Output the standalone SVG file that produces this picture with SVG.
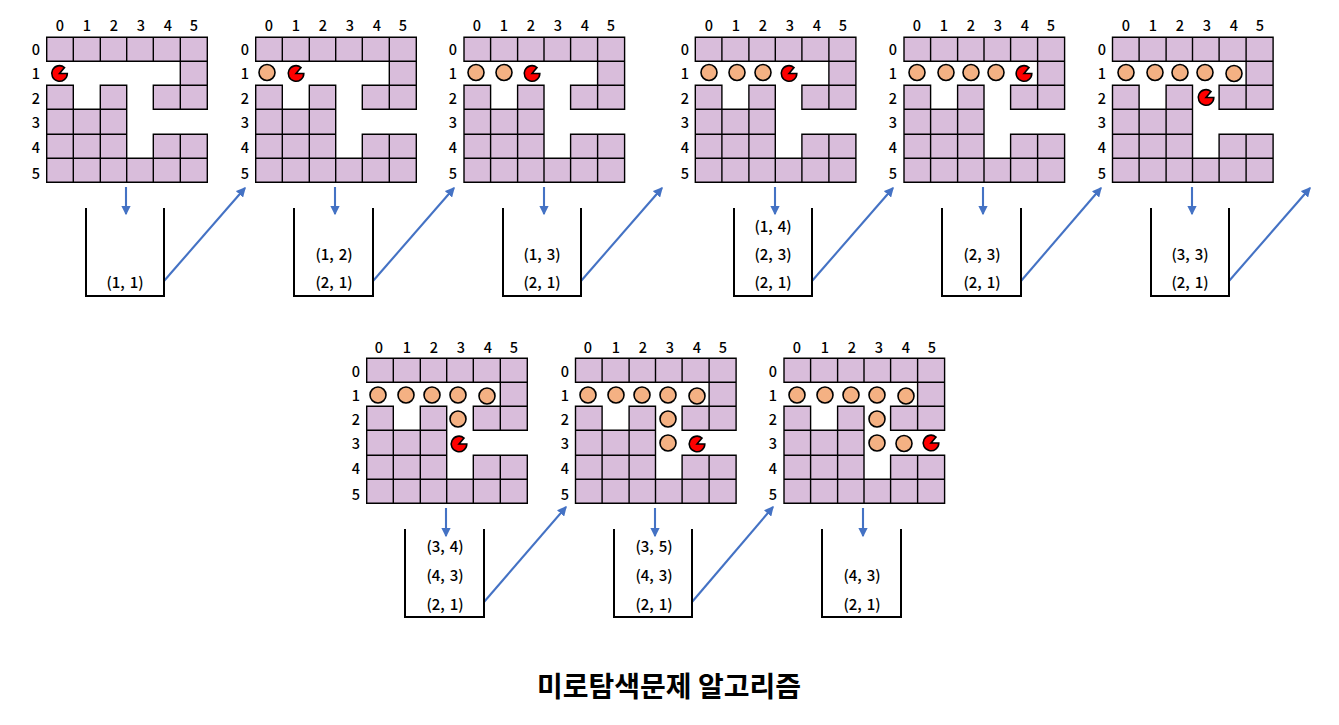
<svg xmlns="http://www.w3.org/2000/svg" width="1339" height="725" viewBox="0 0 1339 725">
<style>
text{font-family:"Noto Sans CJK KR","Noto Sans",sans-serif;fill:#000;text-anchor:middle;font-weight:500}
.l{font-size:14.5px}
.s{font-size:15px;word-spacing:1.5px}
.t{font-size:28px;font-weight:700}
.w{fill:#D9BDDB;stroke:#000;stroke-width:1.4}
.c{fill:#F4B183;stroke:#000;stroke-width:1.6}
.p{fill:#FF0000;stroke:#000;stroke-width:1.6}
.u{fill:none;stroke:#000;stroke-width:2}
.a{fill:none;stroke:#4472C4;stroke-width:2.1;marker-end:url(#h)}
</style>
<defs>
<marker id="h" markerWidth="4.6" markerHeight="4.6" refX="4" refY="2.3" orient="auto" markerUnits="strokeWidth"><path d="M0 0L4.6 2.3L0 4.6Z" fill="#4472C4"/></marker>
<path id="g1" class="w" d="M0 0H26.6V24H0ZM26.6 0H53.6V24H26.6ZM53.6 0H80V24H53.6ZM80 0H106.6V24H80ZM106.6 0H133.6V24H106.6ZM133.6 0H160.6V24H133.6ZM133.6 24H160.6V48H133.6ZM0 48H26.6V72H0ZM53.6 48H80V72H53.6ZM106.6 48H133.6V72H106.6ZM133.6 48H160.6V72H133.6ZM0 72H26.6V97H0ZM26.6 72H53.6V97H26.6ZM53.6 72H80V97H53.6ZM0 97H26.6V121H0ZM26.6 97H53.6V121H26.6ZM53.6 97H80V121H53.6ZM106.6 97H133.6V121H106.6ZM133.6 97H160.6V121H133.6ZM0 121H26.6V145H0ZM26.6 121H53.6V145H26.6ZM53.6 121H80V145H53.6ZM80 121H106.6V145H80ZM106.6 121H133.6V145H106.6ZM133.6 121H160.6V145H133.6Z"/>
<path id="pac" class="p" d="M0 0L5 -6A7.8 7.8 0 1 0 7.8 0Z"/>
</defs>
<g id="connectors">
<path class="a" d="M126 187V214"/><path class="a" d="M335 187V214"/><path class="a" d="M544 187V214"/><path class="a" d="M775 187V214"/><path class="a" d="M983 187V214"/><path class="a" d="M1192 187V214"/>
<path class="a" d="M164 281L245 188"/><path class="a" d="M373 281L454 188"/><path class="a" d="M581 281L662 188"/><path class="a" d="M812 281L893 188"/><path class="a" d="M1021 281L1101 188"/><path class="a" d="M1229 281L1310 188"/>
<path class="a" d="M446 508V536"/><path class="a" d="M655 508V536"/><path class="a" d="M863 508V536"/>
<path class="a" d="M484 602L566 507"/><path class="a" d="M692 602L773 507"/>
</g>
<g id="panel1"><use href="#g1" x="46.7" y="37.3"/>
<text class="l" x="60" y="30.500">0</text><text class="l" x="87" y="30.500">1</text><text class="l" x="114" y="30.500">2</text><text class="l" x="141" y="30.500">3</text><text class="l" x="168" y="30.500">4</text><text class="l" x="194" y="30.500">5</text>
<text class="l" x="36" y="55">0</text><text class="l" x="36" y="79">1</text><text class="l" x="36" y="103.500">2</text><text class="l" x="36" y="127.500">3</text><text class="l" x="36" y="152.500">4</text><text class="l" x="36" y="178.500">5</text>
<use href="#pac" x="59.5" y="73.5"/>
<path class="u" d="M86 208V296M164 208V296M85 296H165"/>
<text class="s" x="125" y="287.500">(1, 1)</text></g>
<g id="panel2"><use href="#g1" x="255.7" y="37.3"/>
<text class="l" x="269" y="30.500">0</text><text class="l" x="296" y="30.500">1</text><text class="l" x="323" y="30.500">2</text><text class="l" x="350" y="30.500">3</text><text class="l" x="377" y="30.500">4</text><text class="l" x="403" y="30.500">5</text>
<text class="l" x="245" y="55">0</text><text class="l" x="245" y="79">1</text><text class="l" x="245" y="103.500">2</text><text class="l" x="245" y="127.500">3</text><text class="l" x="245" y="152.500">4</text><text class="l" x="245" y="178.500">5</text>
<circle class="c" cx="267" cy="72.5" r="8"/><use href="#pac" x="296" y="73.5"/>
<path class="u" d="M294 208V296M373 208V296M293 296H374"/>
<text class="s" x="334" y="259.500">(1, 2)</text><text class="s" x="334" y="287.500">(2, 1)</text></g>
<g id="panel3"><use href="#g1" x="464" y="37.3"/>
<text class="l" x="477" y="30.500">0</text><text class="l" x="504" y="30.500">1</text><text class="l" x="531" y="30.500">2</text><text class="l" x="558" y="30.500">3</text><text class="l" x="585" y="30.500">4</text><text class="l" x="611" y="30.500">5</text>
<text class="l" x="453" y="55">0</text><text class="l" x="453" y="79">1</text><text class="l" x="453" y="103.500">2</text><text class="l" x="453" y="127.500">3</text><text class="l" x="453" y="152.500">4</text><text class="l" x="453" y="178.500">5</text>
<circle class="c" cx="476" cy="72.5" r="8"/><circle class="c" cx="504" cy="72.5" r="8"/><use href="#pac" x="532" y="73.5"/>
<path class="u" d="M503 208V296M581 208V296M502 296H582"/>
<text class="s" x="542" y="259.500">(1, 3)</text><text class="s" x="542" y="287.500">(2, 1)</text></g>
<g id="panel4"><use href="#g1" x="695.3" y="37.3"/>
<text class="l" x="709" y="30.500">0</text><text class="l" x="736" y="30.500">1</text><text class="l" x="763" y="30.500">2</text><text class="l" x="790" y="30.500">3</text><text class="l" x="817" y="30.500">4</text><text class="l" x="843" y="30.500">5</text>
<text class="l" x="685" y="55">0</text><text class="l" x="685" y="79">1</text><text class="l" x="685" y="103.500">2</text><text class="l" x="685" y="127.500">3</text><text class="l" x="685" y="152.500">4</text><text class="l" x="685" y="178.500">5</text>
<circle class="c" cx="709" cy="72.5" r="8"/><circle class="c" cx="737" cy="72.5" r="8"/><circle class="c" cx="763" cy="72.5" r="8"/><use href="#pac" x="789" y="73.5"/>
<path class="u" d="M734 208V296M812 208V296M733 296H813"/>
<text class="s" x="773" y="231.500">(1, 4)</text><text class="s" x="773" y="259.500">(2, 3)</text><text class="s" x="773" y="287.500">(2, 1)</text></g>
<g id="panel5"><use href="#g1" x="904" y="37.3"/>
<text class="l" x="917" y="30.500">0</text><text class="l" x="944" y="30.500">1</text><text class="l" x="971" y="30.500">2</text><text class="l" x="998" y="30.500">3</text><text class="l" x="1025" y="30.500">4</text><text class="l" x="1051" y="30.500">5</text>
<text class="l" x="893" y="55">0</text><text class="l" x="893" y="79">1</text><text class="l" x="893" y="103.500">2</text><text class="l" x="893" y="127.500">3</text><text class="l" x="893" y="152.500">4</text><text class="l" x="893" y="178.500">5</text>
<circle class="c" cx="917" cy="72.5" r="8"/><circle class="c" cx="946" cy="72.5" r="8"/><circle class="c" cx="971" cy="72.5" r="8"/><circle class="c" cx="996" cy="72.5" r="8"/><use href="#pac" x="1024" y="73.5"/>
<path class="u" d="M942 208V296M1021 208V296M941 296H1022"/>
<text class="s" x="982" y="259.500">(2, 3)</text><text class="s" x="982" y="287.500">(2, 1)</text></g>
<g id="panel6"><use href="#g1" x="1112.5" y="37.3"/>
<text class="l" x="1126" y="30.500">0</text><text class="l" x="1153" y="30.500">1</text><text class="l" x="1180" y="30.500">2</text><text class="l" x="1207" y="30.500">3</text><text class="l" x="1234" y="30.500">4</text><text class="l" x="1260" y="30.500">5</text>
<text class="l" x="1102" y="55">0</text><text class="l" x="1102" y="79">1</text><text class="l" x="1102" y="103.500">2</text><text class="l" x="1102" y="127.500">3</text><text class="l" x="1102" y="152.500">4</text><text class="l" x="1102" y="178.500">5</text>
<circle class="c" cx="1126" cy="72.5" r="8"/><circle class="c" cx="1155" cy="72.5" r="8"/><circle class="c" cx="1180" cy="72.5" r="8"/><circle class="c" cx="1205" cy="72.5" r="8"/><circle class="c" cx="1234" cy="73.5" r="8"/><use href="#pac" x="1206" y="97.5"/>
<path class="u" d="M1151 208V296M1229 208V296M1150 296H1230"/>
<text class="s" x="1190" y="259.500">(3, 3)</text><text class="s" x="1190" y="287.500">(2, 1)</text></g>
<g id="panel7"><use href="#g1" x="366.7" y="358.3"/>
<text class="l" x="379" y="352.500">0</text><text class="l" x="407" y="352.500">1</text><text class="l" x="434" y="352.500">2</text><text class="l" x="461" y="352.500">3</text><text class="l" x="488" y="352.500">4</text><text class="l" x="514" y="352.500">5</text>
<text class="l" x="356" y="377">0</text><text class="l" x="356" y="401">1</text><text class="l" x="356" y="425">2</text><text class="l" x="356" y="449">3</text><text class="l" x="356" y="473.500">4</text><text class="l" x="356" y="500">5</text>
<circle class="c" cx="378" cy="395" r="8"/><circle class="c" cx="406" cy="395" r="8"/><circle class="c" cx="432" cy="395" r="8"/><circle class="c" cx="458" cy="395" r="8"/><circle class="c" cx="487" cy="396" r="8"/><circle class="c" cx="458" cy="419" r="8"/><use href="#pac" x="459" y="444"/>
<path class="u" d="M405 529V617M484 529V617M404 617H485"/>
<text class="s" x="445" y="551.500">(3, 4)</text><text class="s" x="445" y="580.500">(4, 3)</text><text class="s" x="445" y="609.500">(2, 1)</text></g>
<g id="panel8"><use href="#g1" x="575.5" y="358.3"/>
<text class="l" x="588" y="352.500">0</text><text class="l" x="616" y="352.500">1</text><text class="l" x="643" y="352.500">2</text><text class="l" x="670" y="352.500">3</text><text class="l" x="697" y="352.500">4</text><text class="l" x="723" y="352.500">5</text>
<text class="l" x="565" y="377">0</text><text class="l" x="565" y="401">1</text><text class="l" x="565" y="425">2</text><text class="l" x="565" y="449">3</text><text class="l" x="565" y="473.500">4</text><text class="l" x="565" y="500">5</text>
<circle class="c" cx="588" cy="395" r="8"/><circle class="c" cx="616" cy="395" r="8"/><circle class="c" cx="642" cy="395" r="8"/><circle class="c" cx="668" cy="395" r="8"/><circle class="c" cx="697" cy="396" r="8"/><circle class="c" cx="668" cy="419" r="8"/><circle class="c" cx="668" cy="443" r="8"/><use href="#pac" x="697" y="444"/>
<path class="u" d="M614 529V617M692 529V617M613 617H693"/>
<text class="s" x="654" y="551.500">(3, 5)</text><text class="s" x="654" y="580.500">(4, 3)</text><text class="s" x="654" y="609.500">(2, 1)</text></g>
<g id="panel9"><use href="#g1" x="784" y="358.3"/>
<text class="l" x="797" y="352.500">0</text><text class="l" x="825" y="352.500">1</text><text class="l" x="852" y="352.500">2</text><text class="l" x="879" y="352.500">3</text><text class="l" x="906" y="352.500">4</text><text class="l" x="932" y="352.500">5</text>
<text class="l" x="773" y="377">0</text><text class="l" x="773" y="401">1</text><text class="l" x="773" y="425">2</text><text class="l" x="773" y="449">3</text><text class="l" x="773" y="473.500">4</text><text class="l" x="773" y="500">5</text>
<circle class="c" cx="797" cy="395" r="8"/><circle class="c" cx="825" cy="395" r="8"/><circle class="c" cx="851" cy="395" r="8"/><circle class="c" cx="877" cy="395" r="8"/><circle class="c" cx="906" cy="396" r="8"/><circle class="c" cx="877" cy="419" r="8"/><circle class="c" cx="877" cy="443" r="8"/><circle class="c" cx="904" cy="443.5" r="8"/><use href="#pac" x="931" y="443"/>
<path class="u" d="M822 529V617M901 529V617M821 617H902"/>
<text class="s" x="862" y="580.500">(4, 3)</text><text class="s" x="862" y="609.500">(2, 1)</text></g>
<g id="title"><text class="t" x="669" y="697">미로탐색문제 알고리즘</text></g>
</svg>
